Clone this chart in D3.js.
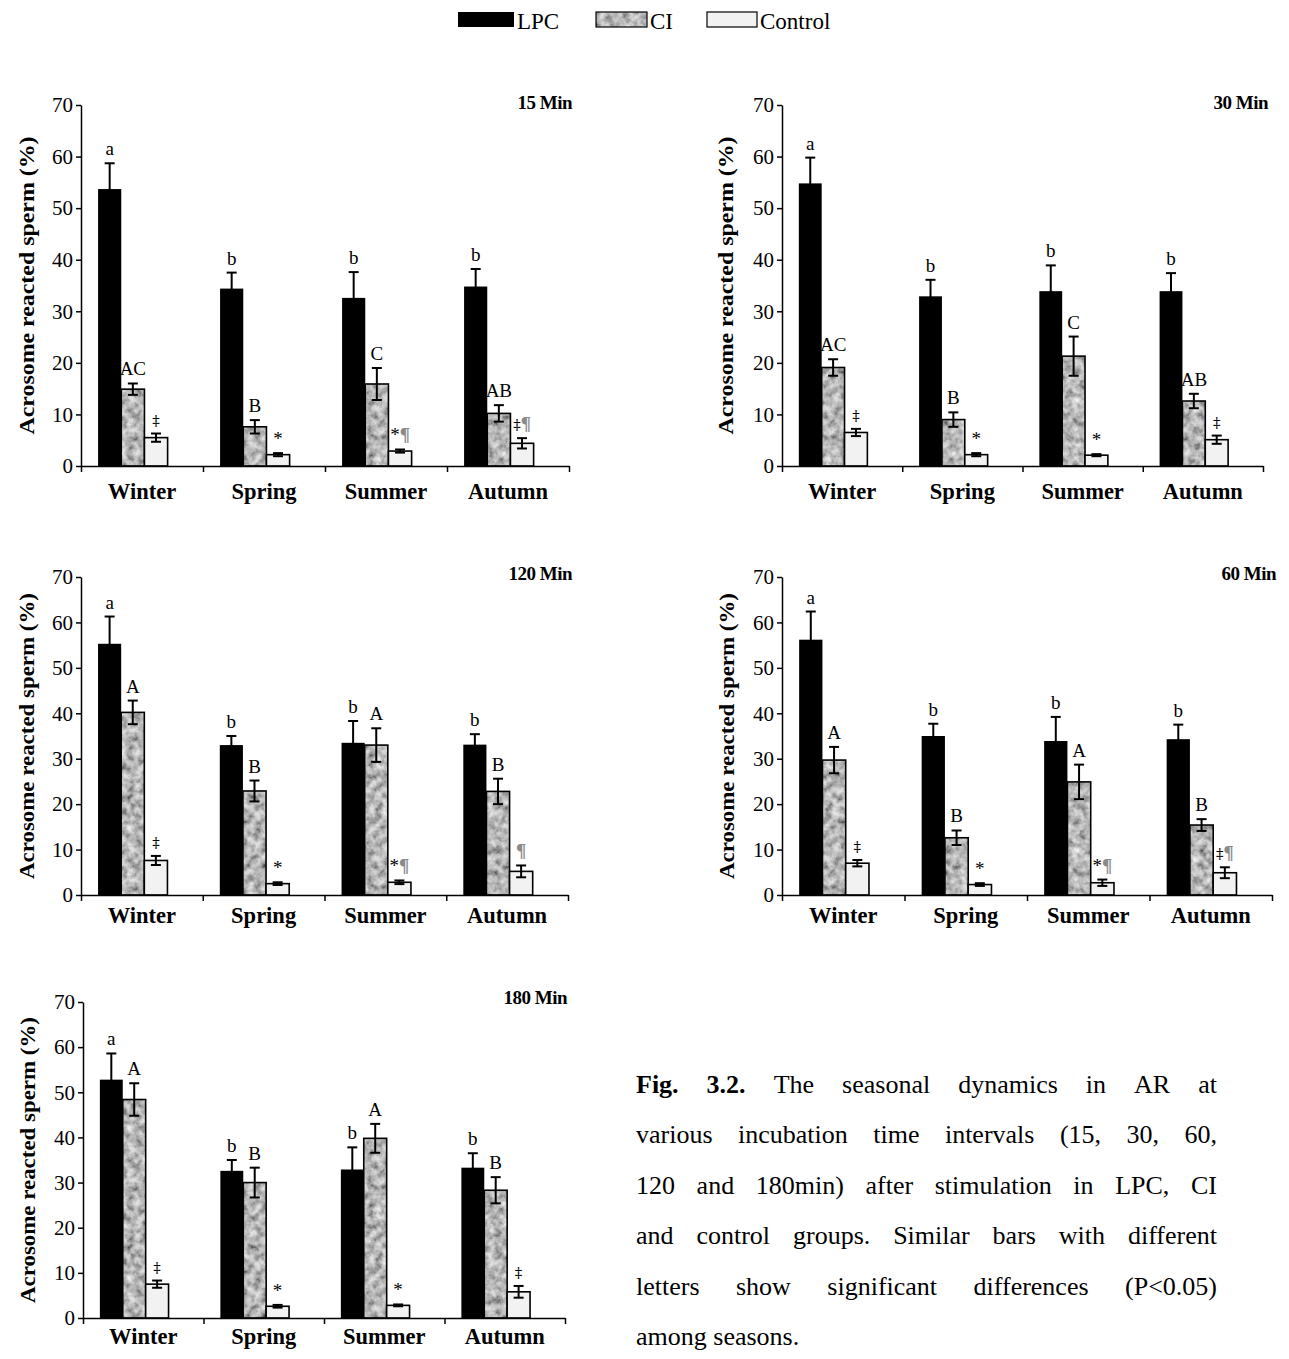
<!DOCTYPE html>
<html>
<head>
<meta charset="utf-8">
<script src="https://cdn.jsdelivr.net/npm/d3@7"></script>
<style>
body { margin: 0; background: #fff; }
text { font-family: "Liberation Serif", "Times New Roman", serif; }
</style>
</head>
<body>
<script>
// panels in the order they are drawn: 15, 30, 120, 60, 180 min
var times = ["15 Min", "30 Min", "120 Min", "60 Min", "180 Min"];
var seasons = ["Winter", "Spring", "Summer", "Autumn"];
var groups = ["LPC", "CI", "Control"];

var lpcMeans = [
    [53.7, 34.4, 32.6, 34.8],
    [54.8, 32.9, 33.9, 33.9],
    [55.3, 33.0, 33.5, 33.1],
    [56.2, 35.0, 33.9, 34.3],
    [52.8, 32.6, 32.9, 33.3]
];
var lpcErr = [
    [5.0, 3.1, 5.0, 3.4],
    [5.0, 3.2, 5.0, 3.5],
    [6.0, 2.0, 4.8, 2.3],
    [6.2, 2.7, 5.3, 3.2],
    [5.8, 2.4, 4.9, 3.2]
];
var ciMeans = [
    [14.9, 7.6, 15.9, 10.2],
    [19.1, 9.0, 21.3, 12.6],
    [40.2, 22.9, 33.0, 22.8],
    [29.7, 12.6, 24.9, 15.4],
    [48.4, 30.0, 39.8, 28.3]
];
var ciErr = [
    [1.1, 1.3, 3.1, 1.6],
    [1.6, 1.4, 3.8, 1.4],
    [2.6, 2.3, 3.7, 2.8],
    [2.9, 1.6, 3.8, 1.3],
    [3.6, 3.3, 3.2, 2.9]
];
var ctrlMeans = [
    [5.5, 2.2, 2.9, 4.4],
    [6.5, 2.2, 2.1, 5.1],
    [7.6, 2.5, 2.8, 5.2],
    [7.0, 2.3, 2.7, 4.9],
    [7.5, 2.6, 2.8, 5.8]
];
var ctrlErr = [
    [0.8, 0.3, 0.3, 1.0],
    [0.7, 0.3, 0.2, 0.8],
    [1.0, 0.3, 0.4, 1.3],
    [0.7, 0.3, 0.7, 1.2],
    [0.8, 0.3, 0.2, 1.3]
];
var lpcLetters = [
    ["a", "b", "b", "b"],
    ["a", "b", "b", "b"],
    ["a", "b", "b", "b"],
    ["a", "b", "b", "b"],
    ["a", "b", "b", "b"]
];
var ciLetters = [
    ["AC", "B", "C", "AB"],
    ["AC", "B", "C", "AB"],
    ["A", "B", "A", "B"],
    ["A", "B", "A", "B"],
    ["A", "B", "A", "B"]
];
var ctrlLetters = [
    ["‡", "*", "*¶", "‡¶"],
    ["‡", "*", "*", "‡"],
    ["‡", "*", "*¶", "¶"],
    ["‡", "*", "*¶", "‡¶"],
    ["‡", "*", "*", "‡"]
];
var yTicks = [0, 10, 20, 30, 40, 50, 60, 70];
var yTitle = "Acrosome reacted sperm (%)";
var captionLines = [
    "Fig. 3.2. The seasonal dynamics in AR at",
    "various incubation time intervals (15, 30, 60,",
    "120 and 180min) after stimulation in LPC, CI",
    "and control groups. Similar bars with different",
    "letters show significant differences (P<0.05)",
    "among seasons."
];

// where each panel sits on the page
var frames = [
    {left: 81, right: 569, top: 105, bottom: 466, titleX: 572, titleY: 109, labelDy: 33, yTitleX: 27, yTitleLen: 298},
    {left: 782, right: 1263, top: 105, bottom: 466, titleX: 1268, titleY: 109, labelDy: 33, yTitleX: 726, yTitleLen: 298},
    {left: 81, right: 568, top: 577, bottom: 895, titleX: 572, titleY: 580, labelDy: 28, yTitleX: 27, yTitleLen: 286},
    {left: 782, right: 1272, top: 577, bottom: 895, titleX: 1276, titleY: 580, labelDy: 28, yTitleX: 727, yTitleLen: 286},
    {left: 83, right: 565, top: 1002, bottom: 1318, titleX: 567, titleY: 1004, labelDy: 26, yTitleX: 28, yTitleLen: 286}
];

var width = 1289;
var height = 1359;
var svg = d3.select("body").append("svg")
    .attr("width", width)
    .attr("height", height);

// mottled grey fill for the CI bars
var defs = svg.append("defs");
var noise = defs.append("filter")
    .attr("id", "noise")
    .attr("x", 0).attr("y", 0)
    .attr("width", "100%").attr("height", "100%");
noise.append("feTurbulence")
    .attr("type", "fractalNoise")
    .attr("baseFrequency", 0.13)
    .attr("numOctaves", 3)
    .attr("seed", 7)
    .attr("stitchTiles", "stitch");
noise.append("feColorMatrix")
    .attr("type", "matrix")
    .attr("values", "1.05 0 0 0 -0.05  1.05 0 0 0 -0.05  1.05 0 0 0 -0.05  0 0 0 0 1");
defs.append("pattern")
    .attr("id", "granite")
    .attr("patternUnits", "userSpaceOnUse")
    .attr("width", 150).attr("height", 150)
    .append("rect")
    .attr("width", 150).attr("height", 150)
    .attr("filter", "url(#noise)");

var fills = {LPC: "#000", CI: "url(#granite)", Control: "#f2f2f2"};

// legend
var legend = svg.append("g").attr("class", "legend");
var legendItems = [
    {name: "LPC", x: 458, w: 56},
    {name: "CI", x: 596, w: 51},
    {name: "Control", x: 707, w: 50}
];
legendItems.forEach(d => {
    legend.append("rect")
        .attr("x", d.x).attr("y", 12)
        .attr("width", d.w).attr("height", 15)
        .attr("fill", fills[d.name])
        .attr("stroke", d.name === "LPC" ? "none" : "#000")
        .attr("stroke-width", 1.2);
    legend.append("text")
        .attr("x", d.x + d.w + 3).attr("y", 29)
        .attr("font-size", 23)
        .text(d.name);
});

times.forEach((t, i) => drawPanel(i));

function drawPanel(i) {
    var f = frames[i];
    var g = svg.append("g").classed("panel", true);

    var y = d3.scaleLinear().domain([0, 70]).range([f.bottom, f.top]);
    var x0 = d3.scaleBand().domain(seasons).range([f.left, f.right]);
    var bw = x0.bandwidth();
    var x1 = d3.scaleBand().domain(groups).range([0.14 * bw, 0.71 * bw]);
    var xEdge = d3.scaleLinear().domain([0, seasons.length]).range([f.left, f.right]);

    var rows = [];
    seasons.forEach((s, j) => {
        rows.push({season: s, group: "LPC", v: lpcMeans[i][j], e: lpcErr[i][j], lab: lpcLetters[i][j]});
        rows.push({season: s, group: "CI", v: ciMeans[i][j], e: ciErr[i][j], lab: ciLetters[i][j]});
        rows.push({season: s, group: "Control", v: ctrlMeans[i][j], e: ctrlErr[i][j], lab: ctrlLetters[i][j]});
    });

    g.selectAll("rect.bar")
        .data(rows)
        .enter().append("rect")
        .attr("class", "bar")
        .attr("x", d => x0(d.season) + x1(d.group))
        .attr("y", d => y(d.v))
        .attr("width", x1.bandwidth())
        .attr("height", d => y(0) - y(d.v))
        .attr("fill", d => fills[d.group])
        .attr("stroke", d => d.group === "LPC" ? "none" : "#000")
        .attr("stroke-width", 1.6);

    var cx = d => x0(d.season) + x1(d.group) + x1.bandwidth() / 2;
    var err = g.selectAll("g.err")
        .data(rows)
        .enter().append("g")
        .attr("class", "err")
        .attr("stroke", "#000")
        .attr("stroke-width", 2);
    err.append("line")
        .attr("x1", cx).attr("x2", cx)
        .attr("y1", d => y(d.v - d.e)).attr("y2", d => y(d.v + d.e));
    err.append("line")
        .attr("x1", d => cx(d) - 5).attr("x2", d => cx(d) + 5)
        .attr("y1", d => y(d.v + d.e)).attr("y2", d => y(d.v + d.e));
    err.append("line")
        .attr("x1", d => cx(d) - 5).attr("x2", d => cx(d) + 5)
        .attr("y1", d => y(d.v - d.e)).attr("y2", d => y(d.v - d.e));

    var labs = g.selectAll("text.sig")
        .data(rows)
        .enter().append("text")
        .attr("class", "sig")
        .attr("x", cx)
        .attr("y", d => y(d.v + d.e) - 8)
        .attr("text-anchor", "middle")
        .attr("font-size", 19);
    labs.each(function(d) {
        var el = d3.select(this);
        Array.from(d.lab).forEach(ch => {
            var ts = el.append("tspan").text(ch);
            if (ch === "¶") {
                ts.attr("fill", "#8a8a8a").attr("font-weight", "bold");
            } else if (ch === "‡") {
                ts.attr("fill", "#000").attr("font-family", "DejaVu Serif, serif").attr("font-size", 15);
            } else {
                ts.attr("fill", "#000");
            }
        });
    });

    // axes
    var yAxis = d3.axisLeft(y).tickValues(yTicks).tickSize(5).tickSizeOuter(0).tickPadding(3);
    var ya = g.append("g")
        .attr("transform", "translate(" + f.left + ",0)")
        .call(yAxis);
    ya.selectAll("text").attr("font-size", 21).attr("font-family", "Liberation Serif, serif").attr("fill", "#000");

    var xAxis = d3.axisBottom(xEdge).ticks(seasons.length).tickSize(6).tickSizeOuter(0).tickFormat("");
    g.append("g")
        .attr("transform", "translate(0," + f.bottom + ")")
        .call(xAxis);
    g.selectAll(".domain, .tick line").attr("stroke", "#000").attr("stroke-width", 1.5);

    g.selectAll("text.season")
        .data(seasons)
        .enter().append("text")
        .attr("class", "season")
        .attr("x", d => x0(d) + bw / 2)
        .attr("y", f.bottom + f.labelDy)
        .attr("text-anchor", "middle")
        .attr("font-size", 22.5)
        .attr("font-weight", "bold")
        .text(d => d);

    g.append("text")
        .attr("x", f.titleX).attr("y", f.titleY)
        .attr("text-anchor", "end")
        .attr("font-size", 19)
        .attr("font-weight", "bold")
        .attr("letter-spacing", -0.5)
        .text(times[i]);

    g.append("text")
        .attr("transform", "translate(" + (f.yTitleX + 7) + "," + ((f.top + f.bottom) / 2) + ") rotate(-90)")
        .attr("text-anchor", "middle")
        .attr("font-size", 21)
        .attr("font-weight", "bold")
        .attr("textLength", f.yTitleLen)
        .attr("lengthAdjust", "spacingAndGlyphs")
        .text(yTitle);
}

// caption, justified between two edges
var capLeft = 636, capRight = 1217, capTop = 1093, capStep = 50.4;
var cap = svg.append("g").attr("font-size", 26);
captionLines.forEach((line, li) => {
    var words = line.split(" ");
    var ws = words.map((w, wi) => {
        var bold = li === 0 && wi < 2;
        var t = cap.append("text")
            .attr("y", capTop + li * capStep)
            .attr("font-weight", bold ? "bold" : null)
            .text(w);
        return {node: t, w: t.node().getComputedTextLength()};
    });
    var total = d3.sum(ws, d => d.w);
    var last = li === captionLines.length - 1;
    var gap = last ? 6.5 : (capRight - capLeft - total) / (ws.length - 1);
    var xx = capLeft;
    ws.forEach(d => {
        d.node.attr("x", xx);
        xx += d.w + gap;
    });
});
</script>
</body>
</html>
